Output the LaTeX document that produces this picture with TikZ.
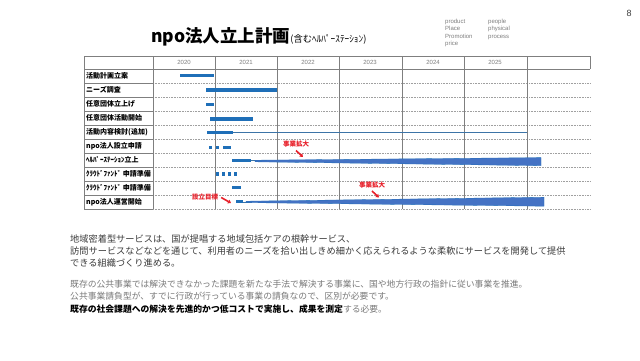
\documentclass[tikz,border=0pt]{standalone}
\usepackage{fontspec}
\setmainfont{Liberation Sans}
\newfontfamily\jp{Noto Sans CJK JP}
\usetikzlibrary{arrows.meta}
\definecolor{barblue}{HTML}{1F6FB8}
\definecolor{wedgeblue}{HTML}{4472C4}
\definecolor{gridgray}{HTML}{7F7F7F}
\definecolor{dotgray}{HTML}{A0A0A0}
\definecolor{txtdark}{HTML}{3C3C3C}
\definecolor{txtgray}{HTML}{7A7A7A}
\definecolor{redlab}{HTML}{E8202A}
\tikzset{
  lbl/.style={anchor=west,inner sep=0pt,font=\jp\bfseries\fontsize{7}{8}\selectfont,text=black},
  yr/.style={inner sep=0pt,font=\fontsize{6}{7}\selectfont,text=gridgray},
  bar/.style={draw=barblue,line width=3.3pt},
  thinln/.style={draw=barblue!70!gray,line width=0.5pt},
  wedge/.style={fill=wedgeblue,draw=barblue,line width=0.3pt},
  redtxt/.style={inner sep=0pt,font=\jp\bfseries\fontsize{6.5}{7}\selectfont,text=redlab},
  redarr/.style={draw=redlab,line width=1.6pt,-{Triangle[length=3pt,width=4pt]}},
  bodya/.style={anchor=base west,inner sep=0pt,font=\jp\fontsize{9.2}{10}\selectfont},
  bodyb/.style={anchor=base west,inner sep=0pt,font=\jp\fontsize{8.8}{10}\selectfont},
  small/.style={anchor=north west,inner sep=0pt,font=\fontsize{6}{7.6}\selectfont,text=gridgray,align=left}
}
\begin{document}
\begin{tikzpicture}[x=1pt,y=-1pt]
\useasboundingbox[fill=white] (0,0) rectangle (640,360);
% title
\node[anchor=base west,inner sep=0pt] (title) at (151,42)
  {\jp\fontsize{17.5}{22}\selectfont\bfseries npo法人立上計画{\mdseries\fontsize{9.3}{10}\selectfont (含むﾍﾙﾊﾟｰｽﾃｰｼｮﾝ)}};
\node[small] (p4a) at (445,18.5) {product\\Place\\Promotion\\price};
\node[small] (p4b) at (488,18.5) {people\\physical\\process};
\node[inner sep=0pt,font=\fontsize{9}{10}\selectfont,text=txtdark] (pg) at (629,13) {8};
% table grid
\foreach \y in {83,97,111,125,139,153,167,181,195}
  \draw[dotgray,densely dotted,line width=0.6pt] (153,\y) -- (590,\y);
\foreach \y in {83,97,111,125,139,153,167,181,195}
  \draw[gridgray,line width=0.5pt] (84,\y) -- (153,\y);
\draw[dotgray,densely dotted,line width=0.6pt] (153,209) -- (590,209);
\draw[gridgray,line width=0.5pt] (84,209) -- (153,209);
\draw[gridgray,line width=0.6pt] (84,56) -- (590,56) -- (590,69);
\draw[gridgray,line width=0.6pt] (84,69) -- (590,69);
\draw[gridgray,line width=0.6pt] (84,56) -- (84,209);
\draw[gridgray,line width=0.6pt] (153,56) -- (153,209);
\foreach \x in {215,277,339,402,464,527}
  \draw[gridgray,line width=0.6pt] (\x,56) -- (\x,209);
% years
\node[yr] (y20) at (184,62.5) {2020};
\node[yr] (y21) at (246,62.5) {2021};
\node[yr] (y22) at (308,62.5) {2022};
\node[yr] (y23) at (370,62.5) {2023};
\node[yr] (y24) at (433,62.5) {2024};
\node[yr] (y25) at (495,62.5) {2025};
% row labels
\node[lbl] (l1) at (86,76) {活動計画立案};
\node[lbl] (l2) at (86,90) {ニーズ調査};
\node[lbl] (l3) at (86,104) {任意団体立上げ};
\node[lbl] (l4) at (86,118) {任意団体活動開始};
\node[lbl] (l5) at (86,132) {活動内容検討(追加)};
\node[lbl] (l6) at (86,146) {npo法人設立申請};
\node[lbl] (l7) at (86,160) {ﾍﾙﾊﾟｰｽﾃｰｼｮﾝ立上};
\node[lbl] (l8) at (86,174) {ｸﾗｳﾄﾞﾌｧﾝﾄﾞ 申請準備};
\node[lbl] (l9) at (86,188) {ｸﾗｳﾄﾞﾌｧﾝﾄﾞ 申請準備};
\node[lbl] (l10) at (86,202) {npo法人運営開始};
% bars
\draw[bar] (180,75.7) -- (214,75.7);
\draw[bar] (206,90) -- (277,90);
\draw[bar] (206,104.5) -- (214,104.5);
\draw[bar] (210,119) -- (253,119);
\draw[thinln] (233,132.5) -- (527,132.5);
\draw[bar] (207,132.5) -- (233,132.5);
\draw[bar] (209,147.5) -- (212,147.5);
\draw[bar] (216,147.5) -- (219,147.5);
\draw[bar] (223,147.5) -- (231,147.5);
\draw[thinln] (251,160.7) -- (262,160.7);
\draw[wedge] (255,160.2) -- (541,157.6) -- (541,165.7) -- (255,161.8) -- cycle;
\draw[bar] (232,160.7) -- (251,160.7);
\foreach \x in {216,222,228,234}
  \draw[bar] (\x,174) -- (\x+3,174);
\draw[bar] (232,187.7) -- (241,187.7);
\draw[thinln] (243,201.8) -- (252,201.8);
\draw[wedge] (246,201.2) -- (544,197.2) -- (544,206.2) -- (246,202.6) -- cycle;
\draw[bar] (236,201.8) -- (243,201.8);
% red labels and arrows
\node[redtxt] (ex1) at (296,144) {事業拡大};
\coordinate (ex1t) at (303,157);
\draw[redarr] (296,150.5) -- (ex1t);
\node[redtxt] (ex2) at (372,185) {事業拡大};
\coordinate (ex2t) at (379,197.5);
\draw[redarr] (372,191) -- (ex2t);
\node[redtxt] (goal) at (205,197.5) {設立目標};
\coordinate (goalt) at (231,203);
\draw[redarr] (goal.east) ++(3,0) -- (goalt);
% body text
\node[bodya,text=txtdark] (t1) at (70,242.5) {地域密着型サービスは、国が提唱する地域包括ケアの根幹サービス、};
\node[bodya,text=txtdark] (t2) at (70,254.5) {訪問サービスなどなどを通じて、利用者のニーズを拾い出しきめ細かく応えられるような柔軟にサービスを開発して提供};
\node[bodya,text=txtdark] (t3) at (70,266.5) {できる組織づくり進める。};
\node[bodyb,text=txtgray] (t4) at (70,287.5) {既存の公共事業では解決できなかった課題を新たな手法で解決する事業に、国や地方行政の指針に従い事業を推進。};
\node[bodyb,text=txtgray] (t5) at (70,299.5) {公共事業請負型が、すでに行政が行っている事業の請負なので、区別が必要です。};
\node[bodyb,text=txtgray] (t6) at (70,312) {{\bfseries\color{black}既存の社会課題への解決を先進的かつ低コストで実施し、成果を測定}する必要。};
\end{tikzpicture}
\end{document}
